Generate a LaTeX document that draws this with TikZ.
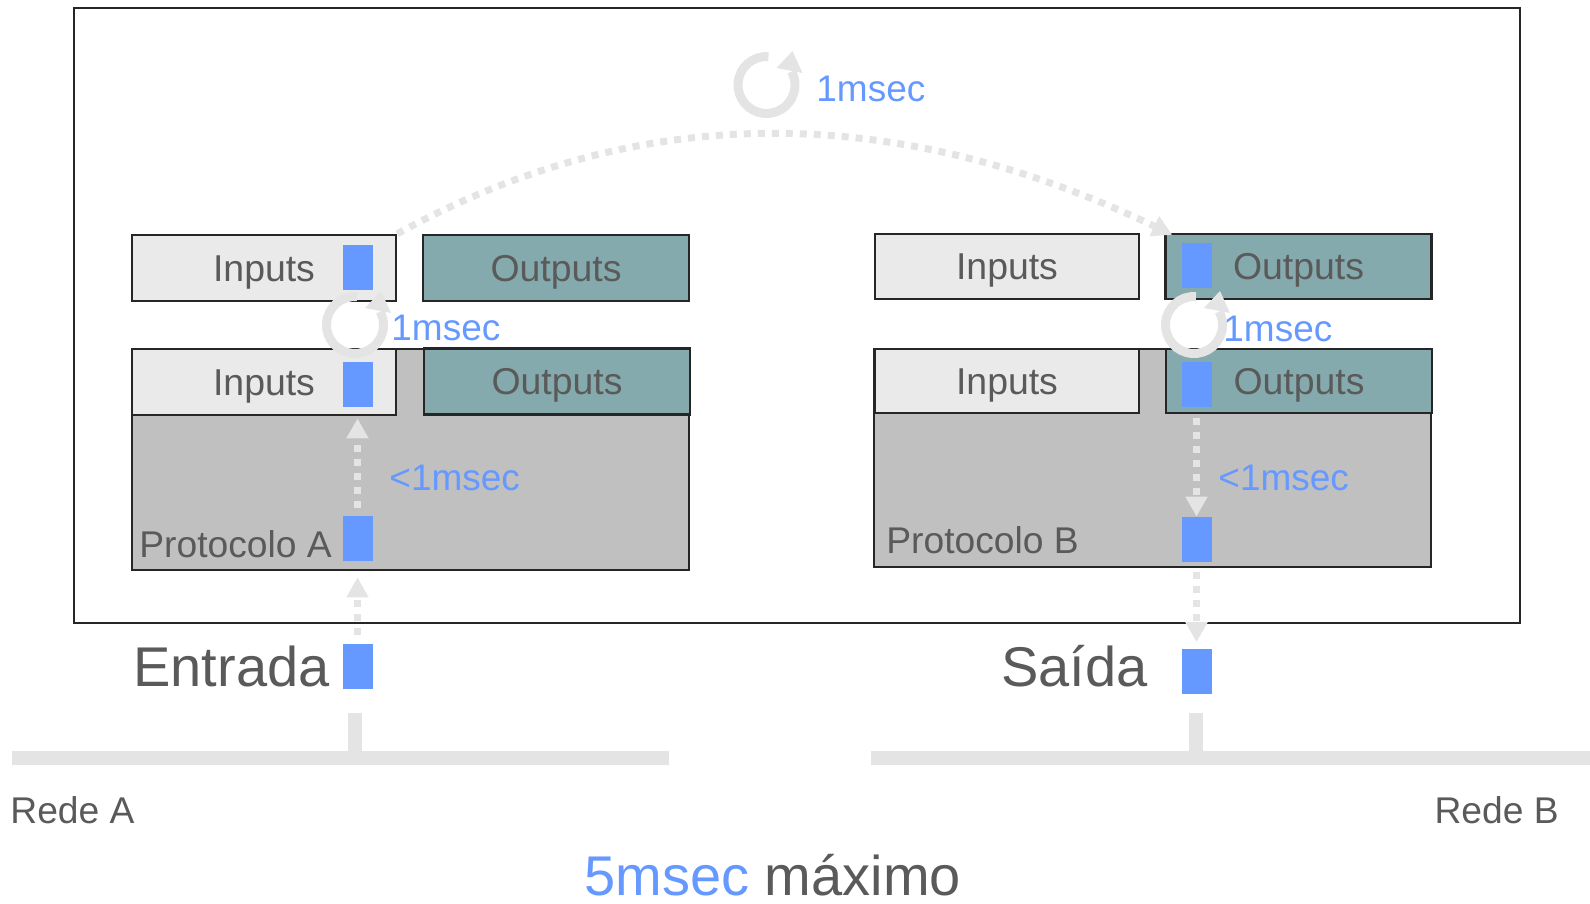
\documentclass[tikz,border=0pt]{standalone}
\usepackage{fontspec}
\setmainfont{Liberation Sans}
\usetikzlibrary{arrows.meta}

\definecolor{txtgray}{RGB}{90,90,90}
\definecolor{msblue}{RGB}{102,153,255}
\definecolor{infill}{RGB}{234,234,234}
\definecolor{outfill}{RGB}{132,170,173}
\definecolor{protfill}{RGB}{192,192,192}
\definecolor{lightline}{RGB}{228,228,228}

\begin{document}
\begin{tikzpicture}[
x=0.5pt, y=0.5pt,
box/.style={
draw=black!85,
line width=1.2pt,
inner sep=0pt,
text height=13.4pt,
text depth=0pt,
text=txtgray,
font=\fontsize{18.7pt}{20pt}\selectfont,
},
inbox/.style={box, fill=infill, minimum width=132pt, minimum height=33pt},
outbox/.style={box, fill=outfill, minimum width=133pt, minimum height=33pt},
protbox/.style={draw=black!85, line width=1.2pt, fill=protfill, minimum width=278.5pt, inner sep=0pt},
packet/.style={fill=msblue, minimum width=15pt, minimum height=22.5pt, inner sep=0pt},
flow/.style={draw=lightline, line width=3.5pt, dash pattern=on 3.5pt off 3.5pt,
  -{Triangle[width=10.5pt, length=10pt]}},
ring/.style={draw=lightline, line width=4.5pt},
timelabel/.style={text=msblue, font=\fontsize{18.5pt}{20pt}\selectfont, anchor=base west, inner sep=0pt},
netlabel/.style={text=txtgray, font=\fontsize{18.6pt}{20pt}\selectfont, inner sep=0pt},
biglabel/.style={text=txtgray, font=\fontsize{28pt}{30pt}\selectfont, anchor=base west, inner sep=0pt},
bus/.style={fill=lightline},
]
\useasboundingbox (0,0) rectangle (1590,-904);

% frame
\draw[black!85, line width=1pt] (74,-8) rectangle (1520,-623);

% protocol boxes
\node [protbox, minimum height=110.5pt] at (410.5,-459.5) (protA) {};
\node [protbox, minimum height=109pt] at (1152.5,-458) (protB) {};

% inputs / outputs
\node [inbox] at (264,-268) (inA1) {Inputs};
\node [outbox] at (556,-268) (outA1) {Outputs};
\node [inbox] at (264,-382) (inA2) {Inputs};
\node [outbox] at (557,-381.5) (outA2) {Outputs};
\node [inbox, minimum height=32.5pt] at (1007,-266.5) (inB1) {Inputs};
\node [outbox, minimum height=32.5pt] at (1298.5,-266.5) (outB1) {Outputs};
\node [inbox, minimum height=32pt] at (1007,-381) (inB2) {Inputs};
\node [outbox, minimum height=32pt] at (1299,-381) (outB2) {Outputs};

% packets
\node [packet] at (357.5,-267.5) (pInA1) {};
\node [packet] at (357.5,-384.5) (pInA2) {};
\node [packet] at (357.5,-538.5) (pProtA) {};
\node [packet] at (357.5,-666.5) (pEntrada) {};
\node [packet] at (1196.5,-265.5) (pOutB1) {};
\node [packet] at (1196.5,-384.5) (pOutB2) {};
\node [packet] at (1196.5,-539.5) (pProtB) {};
\node [packet] at (1196.5,-671) (pSaida) {};

% flows
\draw [flow, shorten <=4pt, shorten >=5.5pt] (pProtA.north) -- (pInA2.south);
\draw [flow, shorten <=4.5pt, shorten >=8pt] (pEntrada.north) -- (pProtA.south);
\draw [flow, shorten <=5.5pt] (pOutB2.south) -- (pProtB.north);
\draw [flow, shorten <=5pt, shorten >=3pt] (pProtB.south) -- (pSaida.north);
\draw [flow] (inA1.north east) .. controls (640,-100) and (895,-102)
  .. ([xshift=4pt, yshift=-1pt]outB1.north west);

% cycle icons
\foreach \cx/\cy in {766.5/-85, 355/-325, 1194/-325} {
  \draw [ring] (\cx,\cy) ++(86:28.5) arc [start angle=86, end angle=388, radius=28.5];
  \fill [lightline] (\cx,\cy) ++(10,17) -- ++(26,-5) -- ++(-10,22) -- cycle;
}

% time labels
\node [timelabel] at (816,-102) (tTop) {1msec};
\node [timelabel] at (391,-340) (tA) {1msec};
\node [timelabel] at (1223,-341) (tB) {1msec};
\node [timelabel] at (389,-490) (tA2) {<1msec};
\node [timelabel] at (1218,-490) (tB2) {<1msec};

\node [netlabel, anchor=base west] at (139,-557) (lProtA) {Protocolo A};
\node [netlabel, anchor=base west] at (886,-553) (lProtB) {Protocolo B};

\node [biglabel] at (133,-686) (lEntrada) {Entrada};
\node [biglabel] at (1001,-686) (lSaida) {Saída};

% networks
\fill [bus] (12,-751) rectangle (669,-765);
\fill [bus] (348,-713) rectangle (362,-751);
\fill [bus] (871,-751) rectangle (1590,-765);
\fill [bus] (1189,-713) rectangle (1203,-751);

\node [netlabel, anchor=base west] at (10,-823) (lRedeA) {Rede A};
\node [netlabel, anchor=base east] at (1559,-823) (lRedeB) {Rede B};

\node [biglabel] at (584,-895) (lTotal) {\textcolor{msblue}{5msec} máximo};

\end{tikzpicture}
\end{document}
